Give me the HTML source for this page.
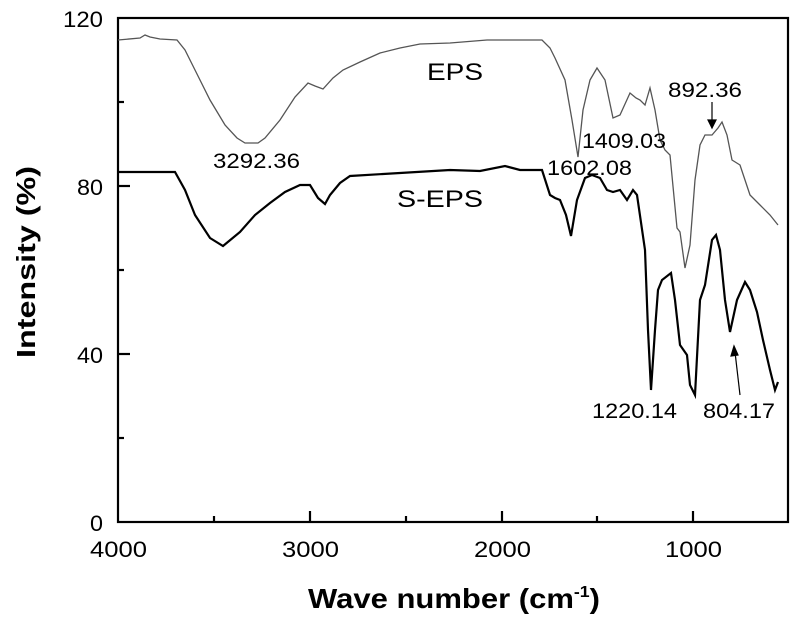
<!DOCTYPE html>
<html><head><meta charset="utf-8"><style>body{margin:0;background:#fff}svg{display:block}</style></head><body>
<svg width="800" height="623" viewBox="0 0 800 623" xmlns="http://www.w3.org/2000/svg" font-family="Liberation Sans, Arial, sans-serif">
<rect width="800" height="623" fill="#fff"/>
<rect x="118" y="18" width="670" height="504" fill="none" stroke="#000" stroke-width="2.2"/>
<g stroke="#000" stroke-width="2.2">
<line x1="118" y1="186" x2="130" y2="186"/><line x1="118" y1="354" x2="130" y2="354"/>
<line x1="118" y1="102" x2="124" y2="102"/><line x1="118" y1="270" x2="124" y2="270"/><line x1="118" y1="438" x2="124" y2="438"/>
<line x1="310" y1="522" x2="310" y2="511"/><line x1="502" y1="522" x2="502" y2="511"/><line x1="693" y1="522" x2="693" y2="511"/>
<line x1="214" y1="522" x2="214" y2="516"/><line x1="406" y1="522" x2="406" y2="516"/><line x1="597" y1="522" x2="597" y2="516"/>
</g>
<g font-size="22" fill="#000" lengthAdjust="spacingAndGlyphs">
<text x="63" y="27" textLength="40" lengthAdjust="spacingAndGlyphs">120</text>
<text x="77" y="195" textLength="26" lengthAdjust="spacingAndGlyphs">80</text>
<text x="77" y="363" textLength="26" lengthAdjust="spacingAndGlyphs">40</text>
<text x="90" y="531" textLength="13" lengthAdjust="spacingAndGlyphs">0</text>
<text x="90" y="557" textLength="57" lengthAdjust="spacingAndGlyphs">4000</text>
<text x="282" y="557" textLength="57" lengthAdjust="spacingAndGlyphs">3000</text>
<text x="474" y="557" textLength="57" lengthAdjust="spacingAndGlyphs">2000</text>
<text x="665" y="557" textLength="57" lengthAdjust="spacingAndGlyphs">1000</text>
</g>
<text x="308" y="608" font-size="28" font-weight="bold" textLength="292" lengthAdjust="spacingAndGlyphs">Wave number (cm<tspan font-size="16" dy="-11">-1</tspan><tspan dy="11">)</tspan></text>
<text transform="translate(35,262) rotate(-90)" font-size="26" font-weight="bold" text-anchor="middle" textLength="192" lengthAdjust="spacingAndGlyphs">Intensity (%)</text>
<polyline fill="none" stroke="#555" stroke-width="1.3" points="118,40 140,38 145,35 150,37 160,39 177,40 185,50 195,70 210,100 225,125 237,138 245,143 258,143 265,138 280,120 295,97 308,83 315,86 323,89 333,78 343,70 360,62 380,53 400,48 420,44 450,43 487,40 542,40 550,48 555,58 565,80 572,120 578,157 583,110 590,80 597,68 605,80 613,118 620,115 630,93 636,98 640,100 645,105 650,88 655,110 660,140 665,150 670,155 677,228 680,232 685,268 690,245 695,180 700,145 705,135 712,135 718,128 722,122 727,135 732,160 740,165 750,195 760,205 770,215 778,225"/>
<polyline fill="none" stroke="#000" stroke-width="2.2" points="118,172 175,172 185,190 195,215 210,238 223,246 240,232 255,215 270,203 285,192 300,185 310,185 318,198 325,204 330,195 340,183 350,176 400,173 450,170 480,171 505,166 520,170 542,170 550,195 555,198 560,200 566,215 571,236 577,200 585,178 592,175 600,178 607,190 613,192 620,190 627,200 633,190 637,195 645,250 648,330 651,390 655,330 658,290 662,280 671,273 675,300 680,345 687,355 690,385 695,395 700,300 705,285 712,240 716,235 720,250 725,300 730,332 737,300 745,282 750,290 757,312 763,340 770,370 775,390 778,382"/>
<g font-size="21" fill="#000">
<text x="427" y="80" font-size="24" textLength="56" lengthAdjust="spacingAndGlyphs">EPS</text>
<text x="397" y="207" font-size="24" textLength="86" lengthAdjust="spacingAndGlyphs">S-EPS</text>
<text x="213" y="168" textLength="87" lengthAdjust="spacingAndGlyphs">3292.36</text>
<text x="547" y="175" textLength="85" lengthAdjust="spacingAndGlyphs">1602.08</text>
<text x="582" y="148" textLength="84" lengthAdjust="spacingAndGlyphs">1409.03</text>
<text x="668" y="97" textLength="74" lengthAdjust="spacingAndGlyphs">892.36</text>
<text x="592" y="418" textLength="85" lengthAdjust="spacingAndGlyphs">1220.14</text>
<text x="703" y="418" textLength="72" lengthAdjust="spacingAndGlyphs">804.17</text>
</g>
<g stroke="#000" stroke-width="1.2" fill="#000">
<line x1="712" y1="102" x2="712" y2="122"/><polygon points="708,120 716,120 712,128"/>
<line x1="740" y1="395" x2="735" y2="352"/><polygon points="731,356 738,355 734,346"/>
</g>
</svg>
</body></html>
